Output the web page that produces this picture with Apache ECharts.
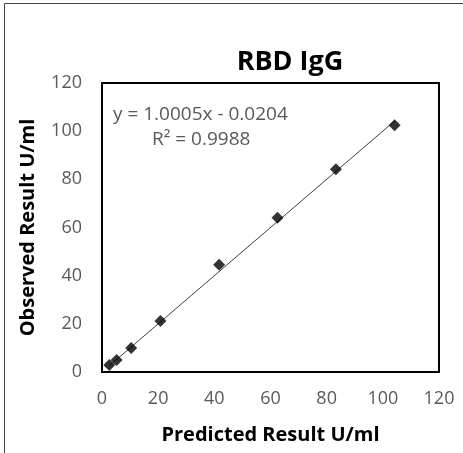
<!DOCTYPE html>
<html>
<head>
<meta charset="utf-8">
<script src="https://cdn.jsdelivr.net/npm/echarts@6/dist/echarts.min.js"></script>
<style>
  html, body { margin: 0; padding: 0; background: #fff; }
  #main { width: 463px; height: 453px; }
</style>
</head>
<body>
<div id="main"></div>
<script>
// values
var predicted = [2.6, 5.2, 10.4, 20.8, 41.7, 62.5, 83.3, 104.2];
var observed = [2.9, 5.0, 10.0, 21.2, 44.5, 64.0, 84.2, 102.5];
var axisTicks = [0, 20, 40, 60, 80, 100, 120];
var slope = 1.0005;
var intercept = -0.0204;
var rSquared = 0.9988;

var points = predicted.map(function (x, i) { return [x, observed[i]]; });
var xMin = Math.min.apply(null, predicted);
var xMax = Math.max.apply(null, predicted);
var trend = [[xMin, slope * xMin + intercept], [xMax, slope * xMax + intercept]];

var gray = '#595959';
var fontFam = '"Open Sans", "Liberation Sans", sans-serif';

var chart = echarts.init(document.getElementById('main'));
chart.setOption({
  animation: false,
  title: {
    text: 'RBD IgG',
    left: 285,
    top: 44,
    textAlign: 'center',
    textStyle: { fontFamily: fontFam, fontSize: 27, fontWeight: 'bold', color: '#000' }
  },
  grid: {
    left: 102, right: 24, top: 83, bottom: 81,
    show: true, borderColor: '#000', borderWidth: 2
  },
  xAxis: {
    type: 'value',
    min: axisTicks[0], max: axisTicks[axisTicks.length - 1], interval: 20,
    name: 'Predicted Result U/ml',
    nameLocation: 'middle', nameGap: 53,
    nameTextStyle: { fontFamily: fontFam, fontSize: 20, fontWeight: 'bold', color: '#000' },
    axisLine: { show: true, lineStyle: { color: '#000', width: 2 } },
    axisTick: { show: false },
    splitLine: { show: false },
    axisLabel: { fontFamily: fontFam, fontSize: 18, color: gray, margin: 18 }
  },
  yAxis: {
    type: 'value',
    min: axisTicks[0], max: axisTicks[axisTicks.length - 1], interval: 20,
    name: 'Observed Result U/ml',
    nameLocation: 'middle', nameGap: 64,
    nameTextStyle: { fontFamily: fontFam, fontSize: 20, fontWeight: 'bold', color: '#000' },
    axisLine: { show: true, lineStyle: { color: '#000', width: 2 } },
    axisTick: { show: false },
    splitLine: { show: false },
    axisLabel: { fontFamily: fontFam, fontSize: 18, color: gray, margin: 20 }
  },
  graphic: [
    {
      type: 'rect', z: -1, silent: true,
      shape: { x: 4.5, y: 3.5, width: 600, height: 600 },
      style: { fill: 'none', stroke: '#444', lineWidth: 1 }
    },
    {
      type: 'text', left: 113, top: 105,
      style: { text: 'y = ' + slope.toFixed(4) + 'x - ' + Math.abs(intercept).toFixed(4),
        fontFamily: fontFam, fontSize: 19, fill: gray }
    },
    {
      type: 'text', left: 152, top: 130,
      style: { text: 'R² = ' + rSquared.toFixed(4),
        fontFamily: fontFam, fontSize: 19, fill: gray }
    }
  ],
  series: [
    {
      type: 'line',
      data: trend,
      symbol: 'none',
      lineStyle: { color: '#404040', width: 1 },
      silent: true,
      z: 1
    },
    {
      type: 'scatter',
      data: points,
      symbol: 'diamond',
      symbolSize: 12,
      itemStyle: { color: '#000' },
      z: 2
    }
  ]
});
</script>
</body>
</html>
